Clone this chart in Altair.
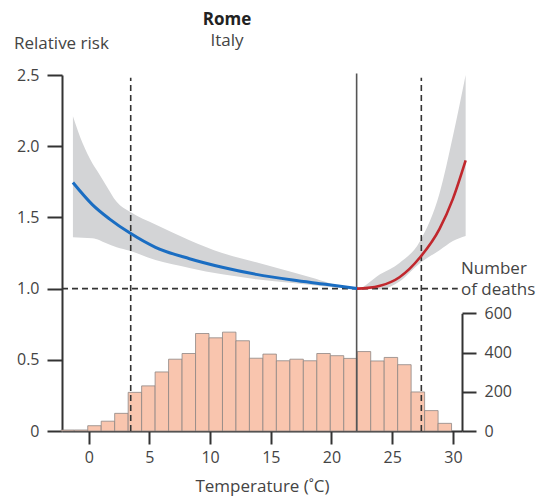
import altair as alt
import pandas as pd

# ---------------- data ----------------
bin_start = [-2.3, -1.19, -0.08, 1.03, 2.14, 3.25, 4.36, 5.47, 6.58, 7.69, 8.8, 9.91, 11.02, 12.13,
             13.24, 14.35, 15.46, 16.57, 17.68, 18.79, 19.9, 21.01, 22.12, 23.23, 24.34, 25.45,
             26.56, 27.67, 28.78]
bin_end = [-1.19, -0.08, 1.03, 2.14, 3.25, 4.36, 5.47, 6.58, 7.69, 8.8, 9.91, 11.02, 12.13, 13.24,
           14.35, 15.46, 16.57, 17.68, 18.79, 19.9, 21.01, 22.12, 23.23, 24.34, 25.45, 26.56,
           27.67, 28.78, 29.89]
deaths = [5, 5, 27, 50, 90, 197, 230, 301, 366, 395, 497, 475, 504, 460, 371, 392, 358, 366,
          358, 395, 384, 370, 405, 357, 375, 338, 199, 104, 39]

cold_temp = [-1.3, 0.3, 1.7, 3.4, 5.5, 8.3, 11.0, 13.8, 16.8, 19.5, 22.1]
cold_rr = [1.745, 1.59, 1.49, 1.39, 1.29, 1.21, 1.15, 1.10, 1.06, 1.03, 1.00]

heat_temp = [22.1, 23.0, 24.0, 25.6, 27.3, 28.9, 30.0, 31.05]
heat_rr = [1.00, 1.005, 1.02, 1.08, 1.22, 1.42, 1.63, 1.90]

band_temp = [-1.3, -0.5, 0.3, 0.9, 1.4, 2.3, 3.4, 5.5, 8.3, 11.0, 13.8, 16.8, 18.7, 20.4,
             22.1, 24.0, 25.6, 27.3, 28.9, 30.0, 31.05]
band_upper = [2.21, 2.02, 1.88, 1.80, 1.73, 1.61, 1.54, 1.45, 1.34, 1.25, 1.185, 1.115, 1.07,
              1.025, 1.0, 1.10, 1.18, 1.335, 1.67, 2.07, 2.5]
band_lower = [1.36, 1.357, 1.354, 1.34, 1.32, 1.29, 1.265, 1.20, 1.145, 1.10, 1.066, 1.04,
              1.022, 1.01, 1.0, 0.995, 1.05, 1.18, 1.27, 1.335, 1.37]

mmt = [22.07]
percentile_temps = [3.46, 27.4]

x_ticks = [0, 5, 10, 15, 20, 25, 30]
rr_ticks = [0, 0.5, 1.0, 1.5, 2.0, 2.5]
death_ticks = [0, 200, 400, 600]

X_DOMAIN = [-2.2, 30.75]
RR_DOMAIN = [0, 2.5]

FONT = "Open Sans"
TXT = "#444444"
AX = "#333333"

# ---------------- frames ----------------
bars_df = pd.DataFrame({"t0": bin_start, "t1": bin_end, "deaths": deaths,
                        "base": [0] * len(deaths)})
cold_df = pd.DataFrame({"temp": cold_temp, "rr": cold_rr})
heat_df = pd.DataFrame({"temp": heat_temp, "rr": heat_rr})
band_df = pd.DataFrame({"temp": band_temp, "lo": band_lower, "hi": band_upper})
mmt_df = pd.DataFrame({"temp": mmt, "y0": [0.0], "y1": [2.51]})
pct_df = pd.DataFrame({"temp": percentile_temps, "y0": [0.0, 0.0], "y1": [2.48, 2.48]})
hline_df = pd.DataFrame({"x0": [X_DOMAIN[0]], "x1": [30.4], "rr": [1.0]})

xs = alt.Scale(domain=X_DOMAIN, nice=False, zero=False)
ys = alt.Scale(domain=RR_DOMAIN, nice=False, zero=True)

band = alt.Chart(band_df).mark_area(color="#d3d4d6", interpolate="monotone").encode(
    x=alt.X("temp:Q", scale=xs,
            axis=alt.Axis(values=x_ticks, title="Temperature (˚C)", grid=False,
                          tickSize=13, tickWidth=2, tickColor=AX, domainColor=AX, domainWidth=2,
                          labelFont=FONT, labelFontSize=16, labelColor=TXT, labelPadding=5,
                          titleFont=FONT, titleFontSize=17, titleFontWeight="normal",
                          titleColor=TXT, titlePadding=13)),
    y=alt.Y("lo:Q", scale=ys,
            axis=alt.Axis(values=rr_ticks, title=None, grid=False,
                          labelExpr="datum.value == 0 ? '0' : format(datum.value, '.1f')",
                          tickSize=15, tickWidth=2, tickColor=AX, domainColor=AX, domainWidth=2,
                          labelFont=FONT, labelFontSize=16, labelColor=TXT, labelPadding=8)),
    y2="hi:Q",
)

dash = [6, 4]
pct_lines = alt.Chart(pct_df).mark_rule(color=AX, strokeWidth=1.6, strokeDash=dash).encode(
    x=alt.X("temp:Q", scale=xs), y=alt.Y("y0:Q", scale=ys), y2="y1:Q")
hline = alt.Chart(hline_df).mark_rule(color=AX, strokeWidth=1.6, strokeDash=dash).encode(
    x=alt.X("x0:Q", scale=xs), x2="x1:Q", y=alt.Y("rr:Q", scale=ys))
mmt_line = alt.Chart(mmt_df).mark_rule(color="#555555", strokeWidth=1.6).encode(
    x=alt.X("temp:Q", scale=xs), y=alt.Y("y0:Q", scale=ys), y2="y1:Q")
cold = alt.Chart(cold_df).mark_line(color="#1a6dc2", strokeWidth=3, interpolate="monotone").encode(
    x=alt.X("temp:Q", scale=xs), y=alt.Y("rr:Q", scale=ys))
heat = alt.Chart(heat_df).mark_line(color="#c1272d", strokeWidth=2.6, interpolate="monotone").encode(
    x=alt.X("temp:Q", scale=xs), y=alt.Y("rr:Q", scale=ys))

def label(text, x, y, size=17, weight="normal", align="left"):
    return alt.Chart(pd.DataFrame({"t": [text]})).mark_text(
        font=FONT, fontSize=size, fontWeight=weight, color=TXT if weight == "normal" else "#222222",
        align=align, baseline="middle").encode(
        text="t:N", x=alt.value(x), y=alt.value(y))

texts = [
    label("Relative risk", -48, -31),
    label("Rome", 165, -55, weight="bold", align="center"),
    label("Italy", 165, -34, align="center"),
    label("Number", 399, 194),
    label("of deaths", 399, 215),
]

rr_layer = alt.layer(band, pct_lines, hline, mmt_line, cold, heat, *texts)

bars = alt.Chart(bars_df).mark_bar(fill="#f9c5ae", stroke="#8e8784", strokeWidth=0.8).encode(
    x=alt.X("t0:Q", scale=xs), x2="t1:Q",
    y=alt.Y("deaths:Q", scale=alt.Scale(domain=[0, 600], range=[356, 238.3], nice=False),
            axis=alt.Axis(orient="right", values=death_ticks, title=None, grid=False,
                          tickSize=14, tickWidth=2, tickColor=AX, domainColor=AX, domainWidth=2,
                          labelFont=FONT, labelFontSize=16, labelColor=TXT, labelPadding=8)),
    y2="base:Q",
)

chart = alt.layer(bars, rr_layer).resolve_scale(y="independent").properties(
    width=400, height=356,
    autosize=alt.AutoSizeParams(type="none"),
    padding={"left": 62, "top": 75, "right": 82, "bottom": 68},
    background="white",
).configure_view(stroke=None)

chart.save("out.html", embed_options={"renderer": "svg", "actions": False})
